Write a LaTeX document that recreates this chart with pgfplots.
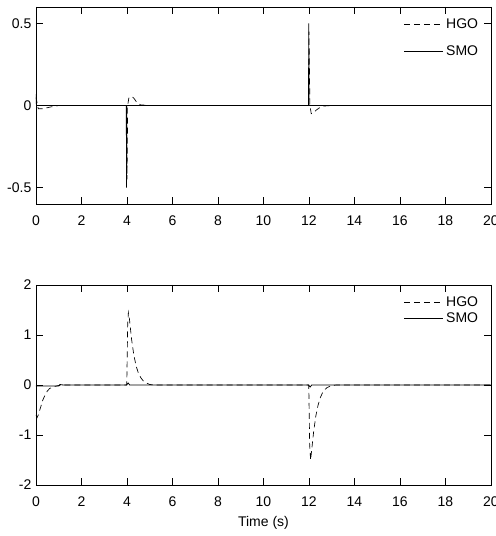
\documentclass[border=0pt]{standalone}
\usepackage{pgfplots}
\pgfplotsset{compat=1.18}
\usepackage{fontspec}
\setmainfont{Liberation Sans}

\pgfplotsset{
  myax/.style={scale only axis, width=341.25pt, xmin=0, xmax=20,
    xtick={0,2,...,20}, tick align=inside, major tick length=5pt,
    axis line style={line width=0.6pt},
    every tick/.style={black, line width=0.5pt},
    tick label style={font=\fontsize{10.5}{12}\selectfont},
    xticklabel style={yshift=-5.5pt},
    label style={font=\fontsize{10.5}{12}\selectfont},
    /pgf/number format/assume math mode=true,
    legend style={draw=none, fill=none, at={(0.978,0.955)}, anchor=north east,
      font=\fontsize{10.5}{12}\selectfont, inner sep=0pt, cells={anchor=west}},
    legend image code/.code={\draw[##1] (0pt,0pt) -- (29pt,0pt);},
  },
  hgo/.style={black, line width=0.5pt, dash pattern=on 4.5pt off 3pt},
  smo/.style={black, line width=0.6pt},
}

\begin{document}
\begin{tikzpicture}
% top panel
\begin{axis}[myax, height=147.75pt, at={(0,210.75pt)}, anchor=south west,
  ymin=-0.6, ymax=0.6, ytick={-0.5,0,0.5},
  legend style={row sep=7.5pt}]
\addplot[hgo] coordinates {(0,0.05) (0.1,-0.02) (0.3,-0.02) (0.6,-0.01) (1,0)
  (3.98,0) (4.0,-0.45) (4.03,0) (4.08,0.045) (4.2,0.055) (4.3,0.045) (4.45,0.015)
  (4.6,0.004) (5,0) (11.98,0) (12.0,0.45) (12.04,0) (12.1,-0.05) (12.2,-0.045)
  (12.3,-0.03) (12.45,-0.015) (12.6,-0.004) (13,0) (20,0)};
\addlegendentry{HGO}
\addplot[smo] coordinates {(0,0.07) (0.02,0) (3.97,0) (3.98,-0.5) (3.99,0)
  (11.98,0) (11.99,0.5) (12.0,0) (20,0)};
\addlegendentry{SMO}
\end{axis}
% bottom panel
\begin{axis}[myax, height=150pt, at={(0,0)}, anchor=south west,
  ymin=-2, ymax=2, ytick={-2,-1,0,1,2}, xlabel={Time (s)},
  legend style={row sep=-1pt}]
\addplot[hgo] coordinates {(0,-0.6) (0.05,-0.65) (0.1,-0.6) (0.2,-0.45) (0.3,-0.3)
  (0.4,-0.2) (0.5,-0.12) (0.6,-0.07) (0.8,-0.03) (1.0,-0.01) (1.2,0)
  (3.99,0) (4.03,1.2) (4.06,1.45) (4.1,1.35) (4.2,0.92) (4.3,0.6) (4.4,0.38)
  (4.5,0.24) (4.6,0.15) (4.7,0.09) (4.8,0.05) (5,0.01) (5.2,0)
  (11.99,0) (12.03,-1.2) (12.07,-1.5) (12.1,-1.38) (12.2,-0.95) (12.3,-0.62)
  (12.4,-0.4) (12.5,-0.25) (12.6,-0.15) (12.7,-0.09) (12.8,-0.05) (13,-0.01)
  (13.2,0) (20,0)};
\addlegendentry{HGO}
\addplot[smo] coordinates {(0,-0.02) (1.0,-0.02) (1.05,0.01) (1.2,0) (3.98,0)
  (4.05,0.04) (4.12,0) (11.98,0) (12.05,-0.04) (12.12,0) (20,0)};
\addlegendentry{SMO}
\end{axis}
\pgfresetboundingbox
\path[use as bounding box] (-27pt,-38.25pt) rectangle (345pt,363.75pt);
\end{tikzpicture}
\end{document}
